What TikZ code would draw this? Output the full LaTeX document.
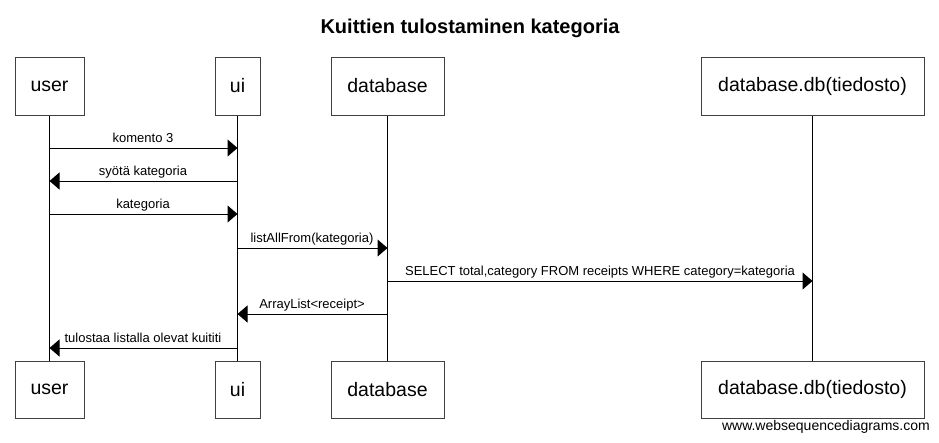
\documentclass[tikz,border=0pt]{standalone}
\usepackage{fontspec}
\setmainfont{Liberation Sans}
\usetikzlibrary{arrows.meta}
\begin{document}
\begin{tikzpicture}[x=1pt,y=-1pt,
  part/.style={draw=black!75,line width=1pt,fill=white,minimum height=58pt,inner sep=0pt,font=\fontsize{19.5}{22}\selectfont},
  life/.style={line width=1pt,black},
  msg/.style={line width=1pt,-{Triangle[length=10pt,width=17pt]}},
  lbl/.style={anchor=base,inner sep=0pt,font=\fontsize{13}{15}\selectfont}]
\useasboundingbox (0,0) rectangle (939,442);
\node[font=\bfseries\fontsize{20}{24}\selectfont,anchor=base] (title) at (470,33) {Kuittien tulostaminen kategoria};
% top participants
\node[part,minimum width=69pt] (u1) at (49.5,86) {user};
\node[part,minimum width=45pt] (i1) at (237.5,86) {ui};
\node[part,minimum width=113pt] (d1) at (387.5,86) {database};
\node[part,minimum width=223pt] (f1) at (812.5,86) {database.db(tiedosto)};
% bottom participants
\node[part,minimum width=69pt,minimum height=57pt] (u2) at (49.5,389.5) {user};
\node[part,minimum width=45pt,minimum height=57pt] (i2) at (237.5,389.5) {ui};
\node[part,minimum width=113pt,minimum height=57pt] (d2) at (387.5,389.5) {database};
\node[part,minimum width=223pt,minimum height=57pt] (f2) at (812.5,389.5) {database.db(tiedosto)};
% lifelines
\draw[life] (u1.south) -- (u2.north);
\draw[life] (i1.south) -- (i2.north);
\draw[life] (d1.south) -- (d2.north);
\draw[life] (f1.south) -- (f2.north);
% messages
\draw[msg] (u1.south |- 0,148) -- (i1.south |- 0,148);
\node[lbl] (l1) at (143,142) {komento 3};
\draw[msg] (i1.south |- 0,181) -- (u1.south |- 0,181);
\node[lbl] (l2) at (143,175) {syötä kategoria};
\draw[msg] (u1.south |- 0,214) -- (i1.south |- 0,214);
\node[lbl] (l3) at (143,208) {kategoria};
\draw[msg] (i1.south |- 0,248) -- (d1.south |- 0,248);
\node[lbl] (l4) at (312,242) {listAllFrom(kategoria)};
\draw[msg] (d1.south |- 0,281) -- (f1.south |- 0,281);
\node[lbl] (l5) at (600,275) {SELECT total,category FROM receipts WHERE category=kategoria};
\draw[msg] (d1.south |- 0,314) -- (i1.south |- 0,314);
\node[lbl] (l6) at (312,308) {ArrayList<receipt>};
\draw[msg] (i1.south |- 0,348) -- (u1.south |- 0,348);
\node[lbl] (l7) at (143,342) {tulostaa listalla olevat kuititi};
\node[anchor=base east,inner sep=0pt,font=\fontsize{14}{16}\selectfont] (foot) at (930,430) {www.websequencediagrams.com};
\end{tikzpicture}
\end{document}
